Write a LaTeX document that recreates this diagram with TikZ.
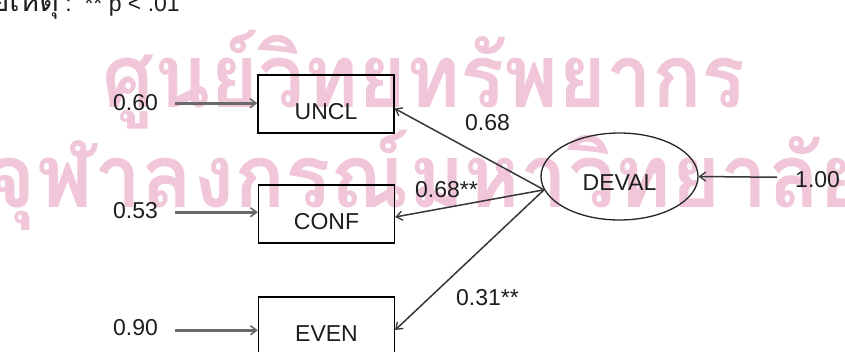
\documentclass[tikz,border=0pt]{standalone}
\usepackage{fontspec}
\setmainfont{Liberation Sans}
\newfontfamily\thaifont[Script=Thai]{Loma}
\usetikzlibrary{arrows.meta,shapes.geometric,calc}
\definecolor{wmcol}{RGB}{240,198,216}
\definecolor{lncol}{RGB}{55,55,55}
\definecolor{incol}{RGB}{105,105,105}
\definecolor{txcol}{RGB}{30,30,30}
\begin{document}
\begin{tikzpicture}[x=1pt,y=-1pt,
  lbl/.style={font=\fontsize{23}{23}\selectfont, text=txcol, inner sep=0pt, text height=16.5pt, text depth=0pt, anchor=base west},
  varbox/.style={draw=black, line width=1.4pt, minimum width=136pt, minimum height=58pt, inner sep=0pt, font=\fontsize{23}{23}\selectfont, text=txcol, text height=30pt, text depth=0pt},
  latent/.style={ellipse, draw=black!85, line width=1.3pt, minimum width=157pt, minimum height=87pt, inner sep=0pt, font=\fontsize{23}{23}\selectfont, text=txcol, text height=27pt, text depth=0pt},
  inarr/.style={draw=incol, line width=2.6pt, -{Straight Barb[length=6pt,width=9pt,line width=1.6pt]}},
  outarr/.style={draw=lncol, line width=1.5pt, -{Straight Barb[length=6pt,width=9pt,line width=1.3pt]}},
  wmark/.style={font=\thaifont\bfseries\fontsize{88}{88}\selectfont, text=wmcol, inner sep=0pt, anchor=base}
]
\useasboundingbox (0,0) rectangle (845,351);
\fill[white] (0,0) rectangle (845,351);
% watermark
\node[wmark] (wm1) at (424,107) {\scalebox{0.93}[1]{ศูนย์วิทยทรัพยากร}};
\node[wmark] (wm2) at (428,207) {\scalebox{0.96}[1]{จุฬาลงกรณ์มหาวิทยาลัย}};
% note
\node[lbl, anchor=base east] (note) at (180,11) {{\thaifont\fontsize{30}{30}\selectfont หมายเหตุ} :~~** p < .01};
% observed variables
\node[varbox] (uncl) at (326,104) {UNCL};
\node[varbox] (conf) at (326.5,214) {CONF};
\node[varbox] (even) at (326.5,326) {EVEN};
% latent
\node[latent] (deval) at (619.5,176.5) {DEVAL};
% error labels
\node[lbl] (l060) at (113,110) {0.60};
\node[lbl] (l053) at (113,218) {0.53};
\node[lbl] (l090) at (113,335) {0.90};
\node[lbl] (l100) at (795,187) {1.00};
% loadings
\node[lbl] (w1) at (465,130) {0.68};
\node[lbl] (w2) at (415,197) {0.68**};
\node[lbl] (w3) at (456,305) {0.31**};
% error arrows
\coordinate (a1) at ($(l060.east)+(17,1.5)$);
\coordinate (a2) at ($(l053.east)+(17,2.5)$);
\coordinate (a3) at ($(l090.east)+(17,3.5)$);
\coordinate (a4) at ($(l100.west)+(-18,-1.5)$);
\draw[inarr] (a1) -- (a1 -| uncl.west);
\draw[inarr] (a2) -- (a2 -| conf.west);
\draw[inarr] (a3) -- (a3 -| even.west);
\draw[outarr] (a4) -- (deval.east);
% loadings arrows
\draw[outarr] (deval.190) -- ($(uncl.east)+(0,4.5)$);
\draw[outarr] (deval.190) -- ($(conf.east)+(0,3)$);
\draw[outarr] (deval.190) -- ($(even.east)+(0,4)$);
\end{tikzpicture}
\end{document}
